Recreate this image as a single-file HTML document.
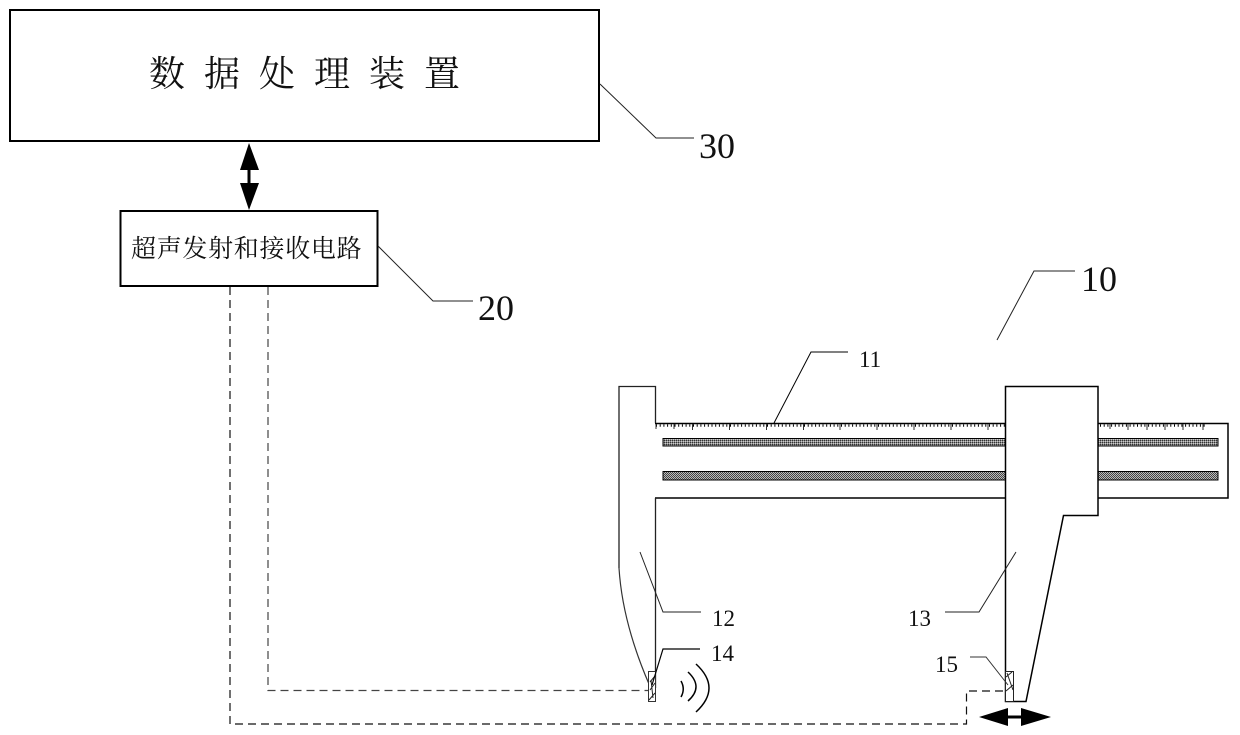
<!DOCTYPE html>
<html>
<head>
<meta charset="utf-8">
<style>
html,body{margin:0;padding:0;background:#fff;width:1240px;height:735px;overflow:hidden}
svg{display:block}
text{fill:#111}
.s{font-family:"Liberation Serif",serif}
.c{font-family:"Liberation Serif","Noto Serif CJK SC",serif}
</style>
</head>
<body>
<svg width="1240" height="735" viewBox="0 0 1240 735" xmlns="http://www.w3.org/2000/svg">
<defs>
<pattern id="p1" width="2" height="2" patternUnits="userSpaceOnUse"><rect width="2" height="2" fill="#888"/><rect width="1" height="1" fill="#333"/><rect x="1" y="1" width="1" height="1" fill="#ccc"/></pattern>
<pattern id="p2" width="2" height="2" patternUnits="userSpaceOnUse"><rect width="2" height="2" fill="#bbb"/><rect width="1" height="1" fill="#444"/><rect x="1" y="1" width="1" height="1" fill="#444"/></pattern>
</defs>

<rect x="10" y="10" width="589" height="131" fill="#fff" stroke="#000" stroke-width="2"/>
<text class="c" y="86" font-size="36" x="149 204 259 314 369 424">数据处理装置</text>

<line x1="249" y1="155" x2="249" y2="196" stroke="#000" stroke-width="3"/>
<polygon points="249,143 240,170 259,170" fill="#000"/>
<polygon points="249,210 240,183 259,183" fill="#000"/>

<rect x="120.500" y="211" width="257" height="75" fill="#fff" stroke="#000" stroke-width="2"/>
<text class="c" y="257" font-size="25" x="131 156.700 182.400 208.100 233.800 259.500 285.200 310.900 336.600">超声发射和接收电路</text>

<polyline points="600,84 656,138 694,138" fill="none" stroke="#222" stroke-width="1"/>
<text class="s" x="699" y="158" font-size="36">30</text>
<polyline points="378,246 433,301 473,301" fill="none" stroke="#222" stroke-width="1"/>
<text class="s" x="478" y="320" font-size="36">20</text>

<polyline points="997,340 1034,271 1075,271" fill="none" stroke="#222" stroke-width="1"/>
<text class="s" x="1081" y="291" font-size="36">10</text>

<!-- caliper body -->
<path d="M655,423.500 H1228 V498 H655" fill="#fff" stroke="#000" stroke-width="1.500"/>
<rect x="663" y="438.500" width="555" height="7.500" fill="url(#p1)" stroke="#000" stroke-width="1"/>
<rect x="663" y="471.500" width="555" height="8.500" fill="url(#p2)" stroke="#000" stroke-width="1"/>
<path d="M656,425.500 H1205" stroke="#000" stroke-width="2.500" stroke-dasharray="1 2.700" fill="none"/>
<path d="M656,424 V429 M674,424 V429 M692.500,424 V430 M729.500,424 V430 M766.500,424 V430 M803.500,424 V430 M840,424 V430 M877,424 V430 M914,424 V430 M951,424 V430 M988,424 V430 M1110,424 V429 M1128,424 V430 M1147,424 V430 M1165,424 V430 M1183,424 V430 M1203,424 V430" stroke="#333" stroke-width="1" fill="none"/>

<!-- left jaw -->
<path d="M619,568 V386.500 H655.500 V423 M655.500,498 V688" fill="none" stroke="#222" stroke-width="1.300"/>
<path d="M619,568 C621,600 630,640 649,684" fill="none" stroke="#333" stroke-width="1.200"/>
<rect x="648.500" y="671.500" width="7" height="30" fill="#fff" stroke="#333" stroke-width="1"/>
<path d="M650,682 L655,676 M650,690 L655,683 M649,700 L655,693 M651,680 L653,698" stroke="#222" stroke-width="1" fill="none"/>
<polyline points="652,685 663,649 700,649" fill="none" stroke="#000" stroke-width="1.200"/>
<text class="s" x="711" y="661" font-size="23">14</text>

<!-- waves -->
<path d="M681,681 Q685.500,689 681,697" fill="none" stroke="#000" stroke-width="1.500"/>
<path d="M688,672 Q704,687 688,701" fill="none" stroke="#000" stroke-width="1.500"/>
<path d="M696,664 Q722,688 696,712" fill="none" stroke="#000" stroke-width="1.500"/>

<!-- slider -->
<path d="M1005.500,701.500 V386.500 H1098 V515.500 H1063.500 L1026,701.500 Z" fill="#fff" stroke="#000" stroke-width="1.500"/>
<rect x="1005.500" y="671.500" width="8" height="30" fill="#fff" stroke="#222" stroke-width="1"/>
<path d="M1006,677 L1012,672 M1006,691 L1013,685 M1007,673 L1013,690" stroke="#222" stroke-width="1" fill="none"/>
<polyline points="970,657 986,657 1008,685" fill="none" stroke="#333" stroke-width="1"/>
<text class="s" x="935" y="672" font-size="23">15</text>

<!-- double arrow -->
<line x1="1005" y1="717" x2="1025" y2="717" stroke="#000" stroke-width="3"/>
<polygon points="979,717 1008,708 1008,726" fill="#000"/>
<polygon points="1051,717 1021,708 1021,726" fill="#000"/>

<!-- labels 11,12,13 -->
<polyline points="774,423 811,352 848,352" fill="none" stroke="#000" stroke-width="1"/>
<text class="s" x="859" y="367" font-size="23">11</text>
<polyline points="640,552 663,612 701,612" fill="none" stroke="#222" stroke-width="1"/>
<text class="s" x="712" y="626" font-size="23">12</text>
<polyline points="1016,552 979,612 945,612" fill="none" stroke="#222" stroke-width="1"/>
<text class="s" x="908" y="626" font-size="23">13</text>

<!-- dashed -->
<path d="M230,287 V724 H966.500 V691 H1004" fill="none" stroke="#111" stroke-width="1.200" stroke-dasharray="8 5"/>
<path d="M268,287 V690.500 H648" fill="none" stroke="#444" stroke-width="1.200" stroke-dasharray="8 5"/>
</svg>
</body>
</html>
